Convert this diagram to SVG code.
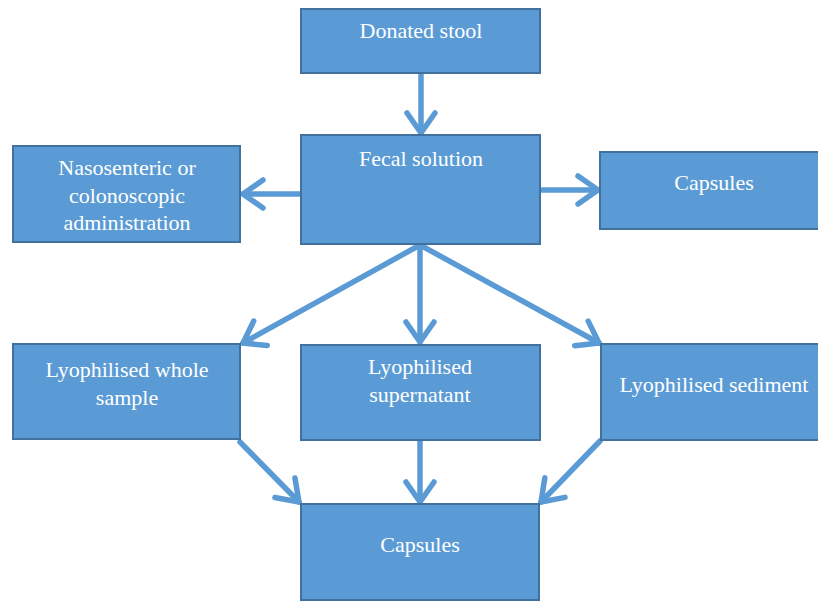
<svg xmlns="http://www.w3.org/2000/svg" width="818" height="602" viewBox="0 0 818 602">
<defs>
<style>
.box{fill:#5B9BD5;stroke:#41719C;stroke-width:2}
.t{font-family:'Liberation Serif','Times New Roman',Times,serif;font-size:22px;fill:#FFFFFF;text-anchor:middle}
.c{stroke:#5B9BD5;stroke-width:5.5;fill:none;stroke-linecap:round}
</style>
<marker id="ah" markerUnits="userSpaceOnUse" markerWidth="40" markerHeight="40" viewBox="-30 -20 40 40" refX="-2" refY="0" orient="auto" overflow="visible">
<path d="M-22,-14 L-2,0 L-22,14" fill="none" stroke="#5B9BD5" stroke-width="5.5" stroke-linecap="round" stroke-linejoin="round"/>
</marker>
</defs>
<rect width="818" height="602" fill="#FFFFFF"/>
<g id="connectors">
<line class="c" x1="421" y1="73" x2="421" y2="133" marker-end="url(#ah)"/>
<line class="c" x1="301" y1="194" x2="243" y2="194" marker-end="url(#ah)"/>
<line class="c" x1="540" y1="190" x2="598" y2="190" marker-end="url(#ah)"/>
<line class="c" x1="420" y1="245" x2="243" y2="343" marker-end="url(#ah)"/>
<line class="c" x1="420" y1="245" x2="420" y2="342" marker-end="url(#ah)"/>
<line class="c" x1="420" y1="245" x2="599" y2="343" marker-end="url(#ah)"/>
<line class="c" x1="240" y1="442" x2="299" y2="502" marker-end="url(#ah)"/>
<line class="c" x1="420" y1="441" x2="420" y2="502" marker-end="url(#ah)"/>
<line class="c" x1="600" y1="441" x2="541" y2="502" marker-end="url(#ah)"/>
</g>
<g id="donated">
<rect class="box" x="301" y="9" width="239" height="64"/>
<text class="t" x="421" y="38" font-family="Liberation Serif, serif">Donated stool</text>
</g>
<g id="fecal">
<rect class="box" x="301" y="135" width="239" height="109"/>
<text class="t" x="421" y="166">Fecal solution</text>
</g>
<g id="naso">
<rect class="box" x="13" y="146" width="227" height="96"/>
<text class="t" x="127" y="175">Nasosenteric or</text>
<text class="t" x="127" y="203">colonoscopic</text>
<text class="t" x="127" y="230">administration</text>
</g>
<g id="capsules1">
<rect class="box" x="600" y="152" width="220" height="77"/>
<text class="t" x="714" y="190">Capsules</text>
</g>
<g id="whole">
<rect class="box" x="13" y="344" width="227" height="95"/>
<text class="t" x="127" y="377">Lyophilised whole</text>
<text class="t" x="127" y="405">sample</text>
</g>
<g id="supernatant">
<rect class="box" x="301" y="345" width="239" height="95"/>
<text class="t" x="420" y="374">Lyophilised</text>
<text class="t" x="420" y="402">supernatant</text>
</g>
<g id="sediment">
<rect class="box" x="601" y="344" width="219" height="96"/>
<text class="t" x="714" y="392">Lyophilised sediment</text>
</g>
<g id="capsules2">
<rect class="box" x="301" y="504" width="238" height="96"/>
<text class="t" x="420" y="552">Capsules</text>
</g>
</svg>
